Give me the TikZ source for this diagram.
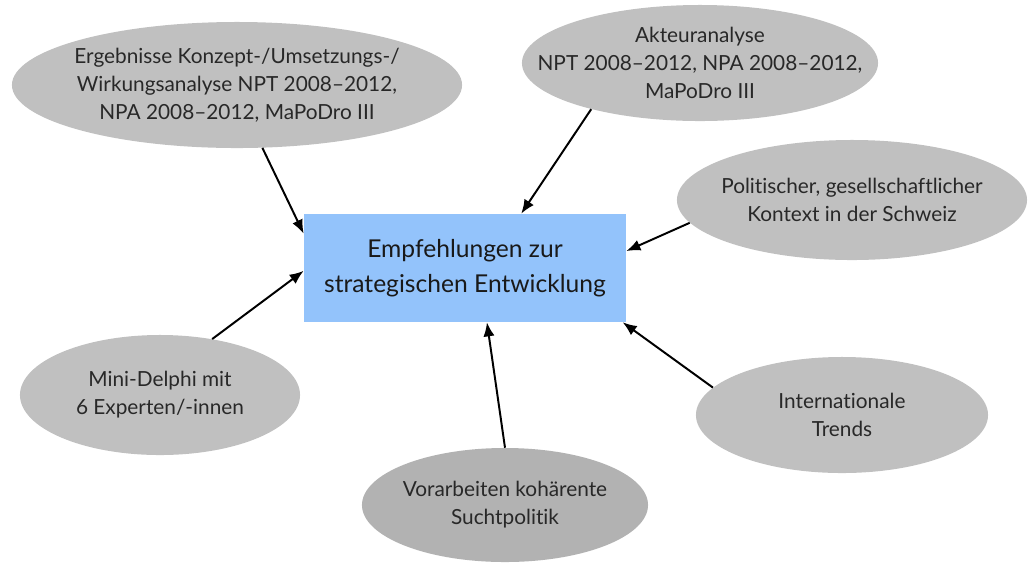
\documentclass[tikz,border=0pt]{standalone}
\usepackage{fontspec}
\setmainfont{Lato}[Ligatures=NoCommon]
\usetikzlibrary{shapes.geometric,arrows.meta}
\definecolor{bubblegray}{RGB}{192,192,192}
\definecolor{bubbledark}{RGB}{178,178,178}
\definecolor{boxblue}{RGB}{147,195,251}
\definecolor{textgray}{RGB}{40,40,40}
\tikzset{
    bubble/.style={ellipse,fill=bubblegray,inner sep=0pt},
    bubtext/.style={align=center,text=textgray,font=\fontsize{14.8}{20}\selectfont},
    goal/.style={rectangle,fill=boxblue,inner sep=0pt,minimum width=8.05cm,minimum height=2.7cm,
        align=center,text=black!90,font=\fontsize{17.5}{25}\selectfont},
    feed/.style={-{Latex[length=10pt,width=8pt]},line width=1.4pt}
}
\begin{document}
\begin{tikzpicture}[x=0.025cm,y=-0.025cm]
        \useasboundingbox (0,0) rectangle (1028,562);
        %% centre box
        \node[goal] (ziel) at (465,268) {Empfehlungen zur\\strategischen Entwicklung};
        %% sources
        \node[bubble,minimum width=11.25cm,minimum height=3.15cm] (ergeb) at (237,85) {};
        \node[bubtext] at (ergeb) {Ergebnisse Konzept-/Umsetzungs-/\\Wirkungsanalyse NPT 2008--2012,\\NPA 2008--2012, MaPoDro III};
        \node[bubble,minimum width=8.9cm,minimum height=2.9cm] (akteur) at (700,63) {};
        \node[bubtext] at (akteur) {Akteuranalyse\\NPT 2008--2012, NPA 2008--2012,\\MaPoDro III};
        \node[bubble,minimum width=8.75cm,minimum height=3cm] (kontext) at (852,200) {};
        \node[bubtext] at (kontext) {Politischer, gesellschaftlicher\\Kontext in der Schweiz};
        \node[bubble,minimum width=7cm,minimum height=3cm] (delphi) at (160,395) {};
        \node[bubtext] at (delphi) {Mini-Delphi mit\\6 Experten/-innen};
        \node[bubble,fill=bubbledark,minimum width=7.15cm,minimum height=2.85cm] (vorarb) at (505,505) {};
        \node[bubtext] at (vorarb) {Vorarbeiten kohärente\\Suchtpolitik};
        \node[bubble,minimum width=7.3cm,minimum height=2.9cm] (trends) at (842,415) {};
        \node[bubtext] at (trends) {Internationale\\Trends};
        %% arrows into the box
        \draw[feed] (ergeb.-68) -- (ziel.168);
        \draw[feed] (akteur.-157) -- (ziel.44);
        \draw[feed] (kontext.188) -- (ziel.6);
        \draw[feed] (delphi.47) -- (ziel.181);
        \draw[feed] (vorarb.90) -- (ziel.-68);
        \draw[feed] (trends.168) -- (ziel.-19);
    \end{tikzpicture}
\end{document}
